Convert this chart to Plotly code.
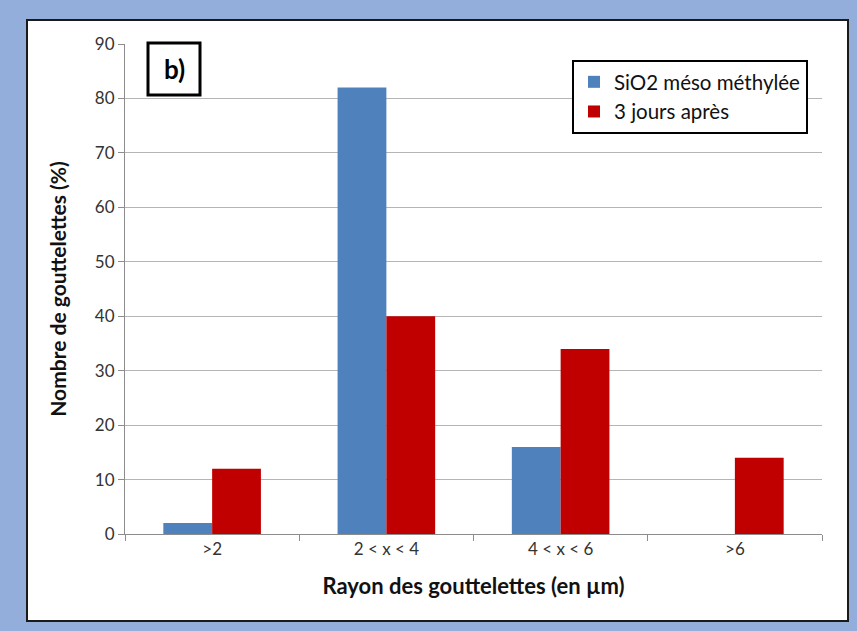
import plotly.graph_objects as go

categories = [">2", "2 < x < 4", "4 < x < 6", ">6"]
sio2_meso = [2, 82, 16, 0]
trois_jours = [12, 40, 34, 14]
y_ticks = [0, 10, 20, 30, 40, 50, 60, 70, 80, 90]
series_names = ["SiO2 méso méthylée", "3 jours après"]
series_colors = ["#4F81BD", "#C00000"]

FONT = "Lato"
W, H = 857, 631
L, R, T, B = 125, 35, 44, 97
pw, ph = W - L - R, H - T - B


def px_x(x):
    return (x - L) / pw


def px_y(y):
    return (H - B - y) / ph


fig = go.Figure()
for name, vals, col in zip(series_names, [sio2_meso, trois_jours], series_colors):
    fig.add_trace(go.Bar(x=categories, y=vals, name=name, showlegend=False,
                         marker=dict(color=col, line=dict(width=0))))
# small square legend keys
for name, col in zip(series_names, series_colors):
    fig.add_trace(go.Scatter(x=[None], y=[None], mode="markers", name=name,
                             marker=dict(symbol="square", size=11, color=col)))

fig.update_layout(
    width=W, height=H,
    margin=dict(l=L, r=R, t=T, b=B),
    paper_bgcolor="#94AEDB",
    plot_bgcolor="white",
    barmode="group", bargap=0.44, bargroupgap=0,
    font=dict(family=FONT, color="#222222"),
    showlegend=True,
    legend=dict(x=px_x(572), y=px_y(60), xanchor="left", yanchor="top",
                bordercolor="black", borderwidth=2, bgcolor="white",
                font=dict(size=20.5, color="#111111"), tracegroupgap=0,
                itemwidth=30, itemsizing="constant"),
    shapes=[
        # white card with dark outline inside the blue frame
        dict(type="rect", xref="paper", yref="paper", layer="below",
             x0=px_x(27), x1=px_x(848), y0=px_y(621), y1=px_y(20),
             fillcolor="white", line=dict(color="#1a1a1a", width=2)),
        # panel label box
        dict(type="rect", xref="paper", yref="paper", layer="above",
             x0=px_x(148), x1=px_x(200), y0=px_y(95), y1=px_y(43),
             fillcolor="white", line=dict(color="black", width=3)),
    ],
    annotations=[dict(text="<b>b)</b>", xref="paper", yref="paper",
                      x=px_x(174), y=px_y(69), xanchor="center", yanchor="middle",
                      showarrow=False,
                      font=dict(size=26, color="black", family=FONT))],
)

fig.update_xaxes(
    type="category", tickson="boundaries", ticks="outside", ticklen=6,
    tickcolor="#8c8c8c", showline=True, linecolor="#8c8c8c", linewidth=1,
    tickfont=dict(size=17, color="#333333"),
    title=dict(text="<b>Rayon des gouttelettes (en µm)</b>",
               font=dict(size=22, color="#111111"), standoff=20),
)
fig.update_yaxes(
    range=[0, 90], tickvals=y_ticks, ticks="outside", ticklen=6,
    tickcolor="#8c8c8c", showline=True, linecolor="#8c8c8c", linewidth=1,
    gridcolor="#b5b5b5", gridwidth=1, zeroline=False,
    tickfont=dict(size=17, color="#333333"),
    title=dict(text="<b>Nombre de gouttelettes (%)</b>",
               font=dict(size=21, color="#111111"), standoff=22),
)

fig.write_html("out.html")
